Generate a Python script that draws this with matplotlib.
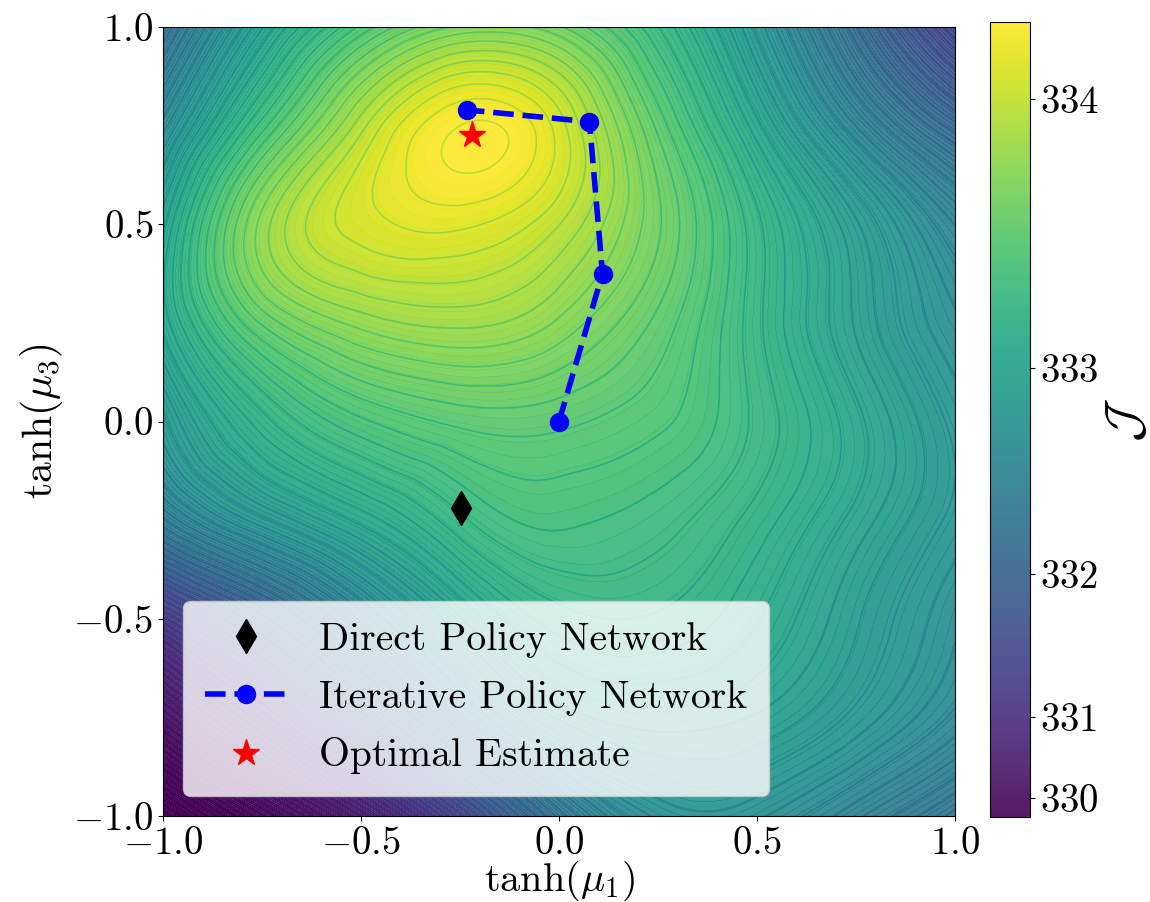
import numpy as np
import matplotlib
matplotlib.use('Agg')
import matplotlib.pyplot as plt
import matplotlib.tri as mtri
from matplotlib.colors import PowerNorm
from matplotlib.cm import ScalarMappable

plt.rcParams['font.family'] = 'serif'
plt.rcParams['font.serif'] = ['cmr10']
plt.rcParams['mathtext.fontset'] = 'cm'
plt.rcParams['axes.formatter.use_mathtext'] = True
plt.rcParams['axes.unicode_minus'] = True

grid_x = [-1.0, -0.75, -0.5, -0.25, 0.0, 0.25, 0.5, 0.75, 1.0]
grid_y = [-1.0, -0.75, -0.5, -0.25, 0.0, 0.25, 0.5, 0.75, 1.0]
# rows go from tanh(mu3) = -1 (bottom) to 1 (top)
J_values = [
    [329.22, 329.95, 330.65, 331.50, 332.30, 332.70, 332.70, 332.50, 332.25],
    [330.30, 331.00, 331.75, 332.45, 332.90, 333.00, 332.95, 332.80, 332.60],
    [331.30, 331.90, 332.50, 332.95, 333.20, 333.22, 333.10, 332.90, 332.70],
    [332.40, 332.80, 333.05, 333.28, 333.38, 333.33, 333.20, 333.00, 332.80],
    [332.80, 333.20, 333.42, 333.52, 333.52, 333.45, 333.28, 333.05, 332.80],
    [333.05, 333.58, 333.80, 333.86, 333.76, 333.55, 333.25, 332.95, 332.70],
    [333.00, 333.80, 334.08, 334.13, 333.98, 333.65, 333.25, 332.90, 332.55],
    [332.65, 333.40, 333.95, 334.25, 334.08, 333.55, 333.05, 332.55, 332.10],
    [332.20, 332.95, 333.45, 333.72, 333.65, 333.30, 332.80, 332.15, 331.45],
]

direct_x = [-0.247]
direct_y = [-0.218]
iter_x = [0.0, 0.11, 0.077, -0.232]
iter_y = [0.0, 0.375, 0.76, 0.79]
opt_x = [-0.22]
opt_y = [0.727]

J = np.array(J_values)
J_min, J_max = J.min(), J.max()

gx, gy = np.meshgrid(grid_x, grid_y)
tri = mtri.Triangulation(gx.ravel(), gy.ravel())
refiner = mtri.UniformTriRefiner(tri)
interp = mtri.CubicTriInterpolator(tri, J.ravel(), kind='min_E')
tri_fine, J_fine = refiner.refine_field(J.ravel(), triinterpolator=interp, subdiv=5)

fig = plt.figure(figsize=(11.5, 9.02), dpi=100)
ax = fig.add_axes([0.1417, 0.0953, 0.6887, 0.8747])
cax = fig.add_axes([0.861, 0.0942, 0.0348, 0.8814])

norm = PowerNorm(gamma=2, vmin=J_min, vmax=J_max)
ax.tricontourf(tri_fine, J_fine, levels=np.linspace(J_min, J_max, 200),
               cmap='viridis', norm=norm, alpha=0.9, extend='both')
line_norm = PowerNorm(gamma=2, vmin=J_min, vmax=J_min + 5.35)
ax.tricontour(tri_fine, J_fine, levels=np.linspace(J_min, J_max, 75),
              cmap='viridis', norm=line_norm, linewidths=1.1, alpha=0.9)

ax.plot(direct_x, direct_y, 'kd', markersize=17, label='Direct Policy Network')
ax.plot(iter_x, iter_y, '--o', color='blue', lw=4, markersize=13,
        label='Iterative Policy Network')
ax.plot(opt_x, opt_y, '*', color='red', markersize=20, label='Optimal Estimate')

ax.set_xlim(-1, 1)
ax.set_ylim(-1, 1)
ax.set_xticks([-1.0, -0.5, 0.0, 0.5, 1.0])
ax.set_yticks([-1.0, -0.5, 0.0, 0.5, 1.0])
ax.tick_params(labelsize=28)
ax.set_xlabel(r'$\tanh(\mu_1)$', fontsize=29, labelpad=-2)
ax.set_ylabel(r'$\tanh(\mu_3)$', fontsize=30, labelpad=6)

ax.legend(loc='lower left', fontsize=28.5, framealpha=0.8, labelspacing=0.55,
          borderpad=0.55, handlelength=2.1, handletextpad=0.8)

sm = ScalarMappable(norm=norm, cmap='viridis')
cb = fig.colorbar(sm, cax=cax, alpha=0.9)
cb.set_ticks([330, 331, 332, 333, 334])
cb.ax.tick_params(labelsize=28)
cb.set_label(r'$\mathcal{J}$', fontsize=36, labelpad=4)

fig.savefig('out.png', dpi=100)
